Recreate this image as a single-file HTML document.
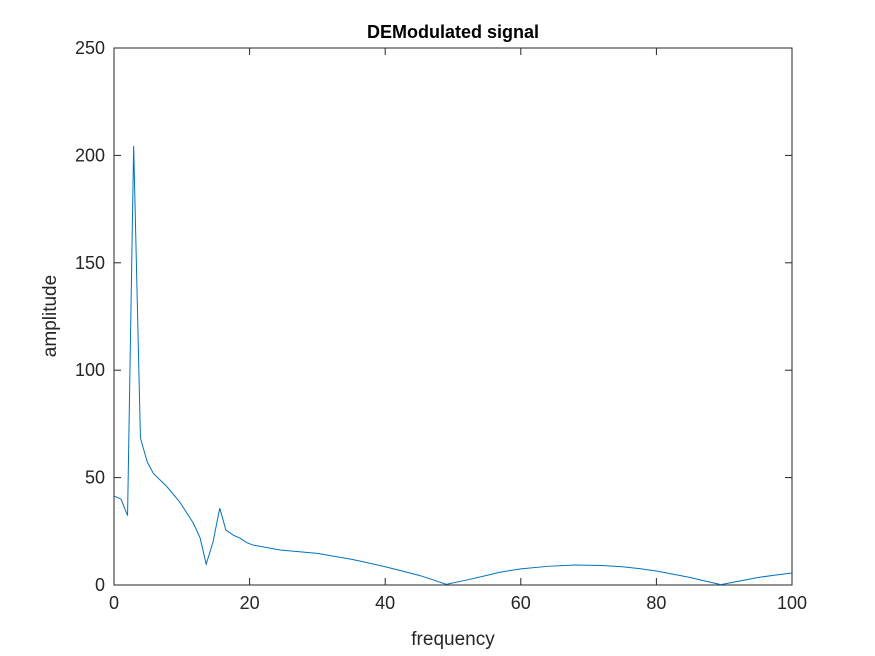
<!DOCTYPE html>
<html><head><meta charset="utf-8"><style>
body{margin:0;background:#fff;}
svg{display:block;font-family:"Liberation Sans",Arial,sans-serif;}
</style></head><body>
<svg id="chart" width="875" height="656">
<rect width="875" height="656" fill="#fff"/>
<g id="axes"></g>
<polyline id="series" fill="none" stroke="#0072BD" stroke-width="1"/>
<text x="453" y="38" text-anchor="middle" font-weight="bold" font-size="18" fill="#000">DEModulated signal</text>
<text x="453" y="645" text-anchor="middle" font-size="19" fill="#262626">frequency</text>
<text transform="translate(56,316) rotate(-90)" text-anchor="middle" font-size="19" fill="#262626">amplitude</text>
</svg>
<script>
const xTicks=[0,20,40,60,80,100];
const yTicks=[0,50,100,150,200,250];
const freq=[0,1.03,2.0,2.9,3.9,4.9,5.8,7.8,9.7,11.7,12.7,13.6,14.6,15.6,16.5,17.6,18.6,19.6,20.5,24.5,30,35,37.5,40,42.5,45,46.5,49,52,55,57,60,64,68,72,75,77.5,80,82.5,85,87,89.5,92,95,97.5,100];
const amp=[41.4,40,32.3,204.4,68.4,57.3,52,45.8,38.6,28.8,21.9,9.7,20,35.8,25.6,23.2,21.8,19.7,18.6,16.3,14.7,12,10.3,8.5,6.5,4.5,3,0.3,2.3,4.5,6,7.5,8.7,9.3,9.1,8.5,7.6,6.5,5,3.5,2,0.2,1.7,3.5,4.6,5.6];
const L=114,R=792,T=48,B=585;
const sx=v=>L+(v-0)/(100-0)*(R-L);
const sy=v=>B-(v-0)/(250-0)*(B-T);
const NS="http://www.w3.org/2000/svg";
const g=document.getElementById('axes');
function mk(t,a){const e=document.createElementNS(NS,t);for(const k in a)e.setAttribute(k,a[k]);g.appendChild(e);return e;}
const box=mk('rect',{x:L,y:T,width:R-L,height:B-T,fill:'none',stroke:'#262626','stroke-width':1});


xTicks.forEach(v=>{const x=sx(v);
mk('line',{x1:x,x2:x,y1:B,y2:B-7,stroke:'#262626'});
mk('line',{x1:x,x2:x,y1:T,y2:T+7,stroke:'#262626'});
const t=mk('text',{x:x,y:B+24,'text-anchor':'middle','font-size':18,fill:'#262626'});t.textContent=v;


});
yTicks.forEach(v=>{const y=sy(v);
mk('line',{x1:L,x2:L+7,y1:y,y2:y,stroke:'#262626'});
mk('line',{x1:R,x2:R-7,y1:y,y2:y,stroke:'#262626'});
const t=mk('text',{x:L-9,y:y+6,'text-anchor':'end','font-size':18,fill:'#262626'});t.textContent=v;


});
document.getElementById('series').setAttribute('points',freq.map((f,i)=>sx(f)+','+sy(amp[i])).join(' '));
</script>
</body></html>
